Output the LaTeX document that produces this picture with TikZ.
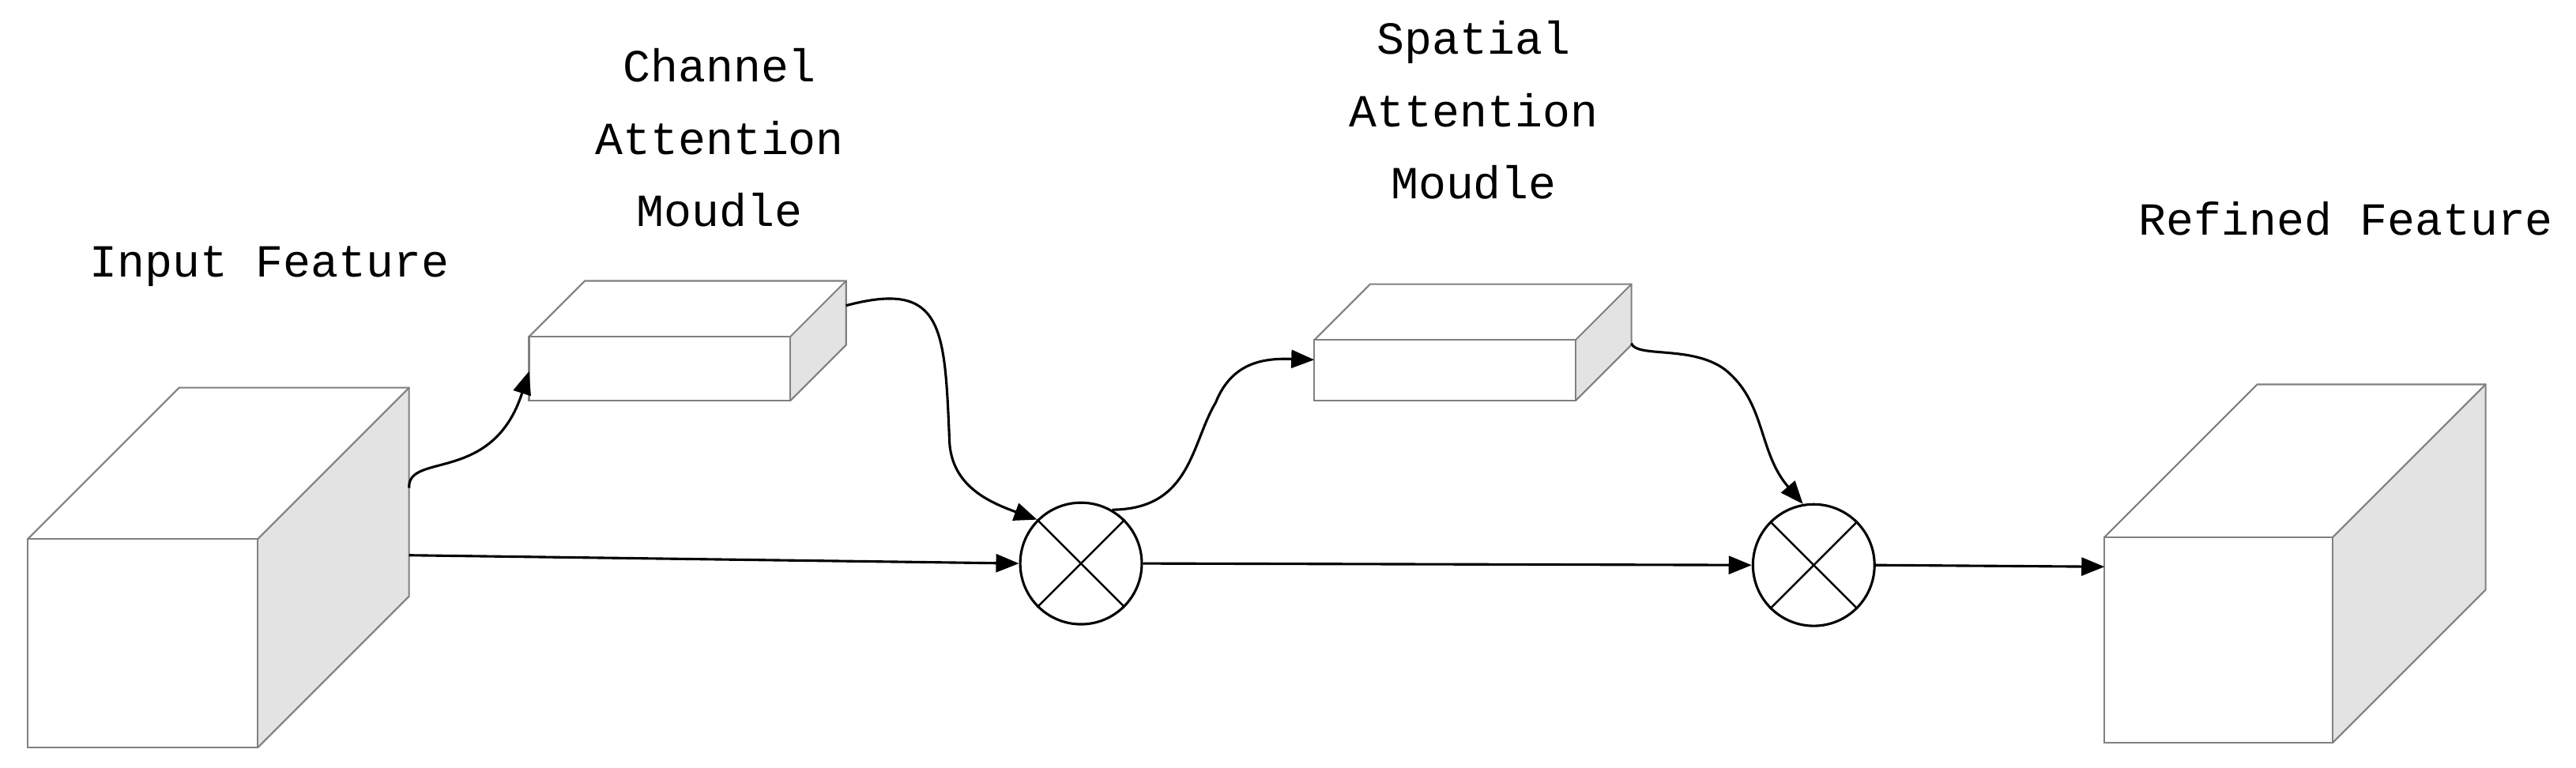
\documentclass[tikz,border=0pt]{standalone}
\usepackage{fontspec}
\setmainfont{Liberation Mono}
\usetikzlibrary{arrows.meta}
\newcommand\mycuboid[6]{% name, x1, y1(top), x2, y2(bottom), depth
  \fill[gray!22] (#4,#3) -- ++(#6,-#6) -- ++(0,#5-#3) -- (#4,#5) -- cycle;
  \draw[boxline] (#2,#3) rectangle (#4,#5);
  \draw[boxline] (#2,#3) -- ++(#6,-#6) -- ++(#4-#2,0) -- ++(0,#5-#3) -- (#4,#5);
  \draw[boxline] (#4,#3) -- ++(#6,-#6);
}
\tikzset{
  boxline/.style={draw=black!50, line width=1pt},
  conn/.style={black, line width=1.5pt, -{Triangle[length=14pt,width=11pt]}},
  lab/.style={font=\fontsize{28}{44}\selectfont, align=center, inner sep=0pt},
  mul/.style={circle, draw, line width=1.5pt, minimum size=74pt, inner sep=0pt}
}
\begin{document}
\begin{tikzpicture}[x=1pt,y=-1pt]
\useasboundingbox (0,0) rectangle (1568,467.5);
\mycuboid{in}{17}{328}{157}{455}{92}
\mycuboid{ca}{322}{205}{481}{244}{34}
\mycuboid{sa}{800}{207}{959}{244}{34}
\mycuboid{out}{1281}{327}{1420}{452}{93}
\node[mul] (c1) at (658,343) {};
\node[mul] (c2) at (1104,344) {};
\foreach \c in {c1,c2}{
  \draw[line width=1.2pt] (\c.45) -- (\c.225) (\c.135) -- (\c.315);
}
\node[lab] (tin) at (164,162) {Input Feature};
\node[lab] (tca) at (438,84) {Channel\\Attention\\Moudle};
\node[lab] (tsa) at (897,67) {Spatial\\Attention\\Moudle};
\node[lab] (tout) at (1428,133) {Refined Feature};
\coordinate (inR) at (249,338);
\coordinate (inU) at (249,297);
\coordinate (caL) at (322,226);
\coordinate (caR) at (515,186);
\coordinate (saL) at (800,219);
\coordinate (saR) at (993,209);
\coordinate (outL) at (1281,345);
\draw[conn] (inR) -- (c1.west);
\draw[conn] (c1.east) -- (c2.west);
\draw[conn] (c2.east) -- (outL);
\draw[conn] (inU) .. controls (248,275) and (300,295) .. (caL);
\draw[conn] (caR) .. controls (575,170) and (575,200) .. (578,270) .. controls (580,295) and (600,305) .. (c1.135);
\draw[conn] (c1.60) .. controls (725,310) and (725,270) .. (740,245) .. controls (750,220) and (770,218) .. (saL);
\draw[conn] (saR) .. controls (996,218) and (1030,210) .. (1050,225) .. controls (1075,245) and (1070,275) .. (c2.100);
\end{tikzpicture}
\end{document}
